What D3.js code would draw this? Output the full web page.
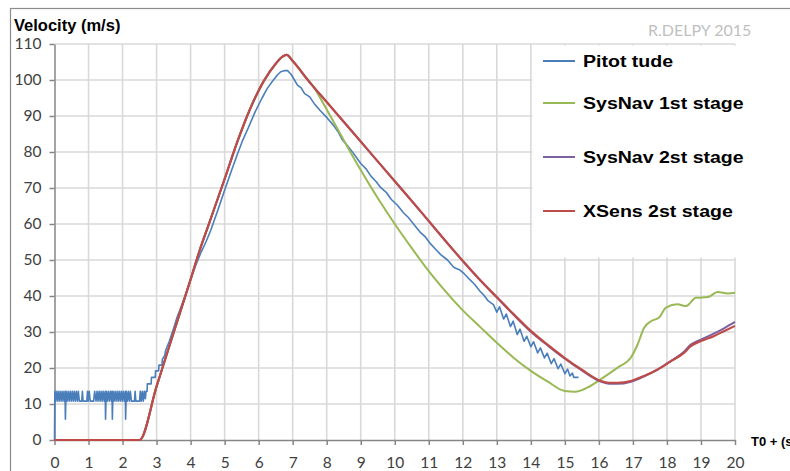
<!DOCTYPE html>
<html>
<head>
<meta charset="utf-8">
<script src="https://cdn.jsdelivr.net/npm/d3@7"></script>
<style>
  body { margin: 0; background: #fff; }
  svg { display: block; }
</style>
</head>
<body>
<div class="canvas"></div>
<script>
// ---- data: [time (s), velocity (m/s)] ----
const xTicks = d3.range(0, 21);
const yTicks = d3.range(0, 111, 10);
const seriesNames = ['Pitot tude', 'SysNav 1st stage', 'SysNav 2st stage', 'XSens 2st stage'];

const pitot = [
  [0,0],[0.01,13.5],[0.04,10.8],[0.07,13.5],[0.1,10.8],[0.13,13.5],[0.16,10.8],[0.19,13.5],[0.22,10.8],
  [0.25,13.5],[0.28,10.8],[0.31,13.5],[0.32,5.8],[0.34,13.5],[0.37,10.8],[0.4,13.5],[0.43,10.8],[0.46,13.5],
  [0.49,10.8],[0.52,13.5],[0.55,10.8],[0.58,13.5],[0.61,10.8],[0.64,13.5],[0.67,10.8],[0.7,13.5],[0.73,10.8],
  [0.8,10.8],[0.82,13.5],[0.84,10.8],[0.95,10.8],[0.97,13.5],[0.99,10.8],[1.02,13.5],[1.05,10.8],[1.15,10.8],
  [1.18,13.5],[1.22,10.8],[1.25,13.5],[1.28,10.8],[1.31,13.5],[1.34,10.8],[1.37,13.5],[1.4,10.8],[1.43,13.5],
  [1.46,10.8],[1.49,13.5],[1.5,5.8],[1.52,13.5],[1.55,10.8],[1.58,13.5],[1.61,10.8],[1.64,13.5],[1.67,10.8],
  [1.69,13.5],[1.7,5.8],[1.72,13.5],[1.75,10.8],[1.78,13.5],[1.81,10.8],[1.84,13.5],[1.87,10.8],[1.9,13.5],
  [1.93,10.8],[1.96,13.5],[1.99,10.8],[2.02,13.5],[2.05,10.8],[2.08,13.5],[2.09,5.8],[2.11,13.5],[2.14,10.8],
  [2.17,13.5],[2.2,10.8],[2.23,13.5],[2.26,10.8],[2.35,10.8],[2.37,13.5],[2.39,10.8],[2.5,10.8],[2.52,13.5],
  [2.55,10.8],[2.58,13.5],[2.61,10.8],[2.64,13.5],[2.67,11.5],[2.69,13.5],
  [2.72,13.5],[2.73,15.6],[2.84,15.6],[2.85,17.4],[2.96,17.4],[2.97,19.2],[3.06,19.2],[3.07,20.8],
  [3.16,20.8],[3.17,22.4],[3.24,23.5],[3.27,25],[3.37,27.3],[3.5,31],[3.6,34],[3.75,37.8],[3.9,41.6],[4.0,44.6],
  [4.15,48.5],[4.3,52],[4.45,55],[4.59,58.2],[4.8,63.8],[5.0,69.4],[5.2,74.8],[5.38,79.5],[5.52,83],[5.7,86.8],
  [5.9,91.2],[6.1,95],[6.25,97.6],[6.4,99.6],[6.55,101.4],[6.65,102.3],[6.75,102.6],[6.85,102.6],[6.95,101.6],
  [7.04,100.2],[7.14,98.6],[7.25,97.8],[7.35,96.2],[7.5,95.3],[7.63,93.5],[7.8,91.6],[8.02,89.4],[8.2,87.4],
  [8.35,85.4],[8.46,83.4],[8.6,81.9],[8.75,80.1],[8.88,78.4],[9.0,76.8],[9.15,75.4],[9.3,73.3],[9.45,71.8],
  [9.59,70.1],[9.75,68.8],[9.9,66.8],[10.08,65.2],[10.25,63.2],[10.4,61.8],[10.57,59.8],[10.76,57.6],[10.9,56.4],
  [11.06,54.4],[11.2,53],[11.35,51.5],[11.55,50],[11.74,47.9],[11.9,47.3],[12.04,46.2],[12.2,44.6],[12.35,43.2],
  [12.5,41.4],[12.62,40.2],[12.73,38.8],[12.9,37.6],[13.0,35.5],[13.08,37],[13.2,33.6],[13.28,35],[13.4,31.5],
  [13.48,33],[13.6,29.3],[13.68,30.8],[13.8,27.4],[13.88,28.8],[14.0,25.9],[14.08,27.3],[14.2,24.2],[14.28,25.6],
  [14.4,22.8],[14.48,24.1],[14.6,21.2],[14.68,22.6],[14.8,19.8],[14.88,21.1],[15.0,18.4],[15.08,19.7],[15.15,17.8],
  [15.22,18.6],[15.26,17.4],[15.4,17.4]
];

const sysNav1 = [
  [0,0],[2.5,0],[3,14.9],[3.5,29.8],[4,44.6],[4.26,52.5],[4.5,59],[5,72.5],[5.38,83],[5.75,92],[6.15,99.7],
  [6.5,104.5],[6.7,106.5],[6.82,107],[7,105.3],[7.3,101.8],[7.6,98.3],[8,91.8],[8.5,83.3],[9,75],[9.5,67.2],
  [10,60],[10.5,53.3],[11,46.9],[11.5,41.2],[12,36],[12.5,31.5],[13,27],[13.5,22.8],[14,19.2],[14.5,16.2],
  [15,13.6],[15.3,13.4],[15.67,14.6],[16.06,16.9],[16.55,20.1],[16.94,22.9],[17.14,26.6],[17.33,31.2],[17.53,33],
  [17.77,34],[17.97,36.8],[18.31,37.7],[18.56,37.2],[18.85,39.5],[19.2,39.7],[19.49,41.1],[19.79,40.7],[20,40.9]
];

const sysNav2 = [
  [0,0],[2.5,0],[3,14.9],[3.5,29.8],[4,44.6],[4.26,52.5],[4.5,59],[5,72.5],[5.38,83],[5.75,92],[6.15,99.7],
  [6.5,104.5],[6.7,106.5],[6.82,107],[7,105.3],[7.47,99.7],[8,93.9],[8.5,88.4],[9,82.9],[9.5,77.4],[10,71.9],
  [10.5,66.4],[10.76,63.5],[11.5,55.2],[12.04,49.3],[12.5,44.5],[13.02,39.4],[13.5,34.7],[14,30.1],[14.5,26.2],
  [14.98,22.7],[15.5,19.3],[16.06,16.2],[16.3,15.6],[16.55,15.6],[16.94,16.2],[17.33,17.7],[17.73,19.6],
  [18.12,22],[18.5,24.5],[18.7,26.5],[19,27.9],[19.39,29.6],[19.69,31.1],[20,32.8]
];

const xsens = [
  [0,0],[2.5,0],[3,14.9],[3.5,29.8],[4,44.6],[4.26,52.5],[4.5,59],[5,72.5],[5.38,83],[5.75,92],[6.15,99.7],
  [6.5,104.5],[6.7,106.5],[6.82,107],[7,105.3],[7.47,99.7],[8,93.9],[8.5,88.4],[9,82.9],[9.5,77.4],[10,71.9],
  [10.5,66.4],[10.76,63.5],[11.5,55.2],[12.04,49.3],[12.5,44.5],[13.02,39.5],[13.5,34.9],[14,30.3],[14.5,26.4],
  [14.98,22.9],[15.5,19.5],[16.06,16.4],[16.3,15.9],[16.55,15.9],[16.94,16.4],[17.33,17.8],[17.73,19.6],
  [18.12,21.9],[18.5,24.2],[18.7,26.1],[19,27.5],[19.39,28.9],[19.69,30.3],[20,31.7]
];

// styles
const colors = ['#4a7ebb', '#98b954', '#7d60a0', '#be4b48'];
const widths = [1.6, 2, 2, 2.2];
const legendY = [61, 103, 157, 211];

// create svg
const svg = d3.select('.canvas')
  .append('svg')
    .attr('width', 790)
    .attr('height', 471);

// outer chart frame
svg.append('rect')
  .attr('x', 10.5).attr('y', 8.5)
  .attr('width', 900).attr('height', 600)
  .attr('fill', '#fff')
  .attr('stroke', '#8c8c8c')
  .attr('stroke-width', 1.2);

// scales
const x = d3.scaleLinear().domain([0, 20]).range([54.5, 735]);
const y = d3.scaleLinear().domain([0, 110]).range([440, 44]);

// gridlines
svg.append('g')
  .selectAll('line')
  .data(xTicks.slice(1))
  .enter().append('line')
    .attr('x1', d => x(d)).attr('x2', d => x(d))
    .attr('y1', y(0)).attr('y2', y(110))
    .attr('stroke', '#d9d9d9').attr('stroke-width', 1.6);

svg.append('g')
  .selectAll('line')
  .data(yTicks.slice(1))
  .enter().append('line')
    .attr('x1', x(0)).attr('x2', x(20))
    .attr('y1', d => y(d)).attr('y2', d => y(d))
    .attr('stroke', '#d9d9d9').attr('stroke-width', 1.6);

// legend background covers the grid top-right
svg.append('rect')
  .attr('x', x(14) + 1.5).attr('y', y(110) + 1.5)
  .attr('width', 300).attr('height', y(50) - y(110) - 4)
  .attr('fill', '#fff');

// axes
const xAxis = d3.axisBottom(x).tickValues(xTicks).tickSize(5).tickSizeOuter(0).tickPadding(12);
const yAxis = d3.axisLeft(y).tickValues(yTicks).tickSize(5).tickSizeOuter(0).tickPadding(8);

const gx = svg.append('g').attr('transform', `translate(0,${y(0)})`).call(xAxis);
const gy = svg.append('g').attr('transform', `translate(${x(0)},0)`).call(yAxis);

[gx, gy].forEach(g => {
  g.selectAll('path, line').attr('stroke', '#868686').attr('stroke-width', 1.5);
  g.selectAll('text')
    .attr('font-family', 'Lato')
    .attr('font-size', '15.5px')
    .attr('fill', '#404040');
});

// series lines
const line = d3.line().x(d => x(d[0])).y(d => y(d[1]));
const series = [pitot, sysNav1, sysNav2, xsens];

series.forEach((data, i) => {
  svg.append('path')
    .datum(data)
    .attr('fill', 'none')
    .attr('stroke', colors[i])
    .attr('stroke-width', widths[i])
    .attr('stroke-linejoin', 'round')
    .attr('d', i === 0 ? line.curve(d3.curveLinear)(data) : line.curve(d3.curveMonotoneX)(data));
});

// legend entries
const legend = svg.append('g')
  .selectAll('g')
  .data(seriesNames)
  .enter().append('g')
    .attr('transform', (d, i) => `translate(543,${legendY[i]})`);

legend.append('line')
  .attr('x1', 0).attr('x2', 32)
  .attr('stroke', (d, i) => colors[i])
  .attr('stroke-width', 2);

legend.append('text')
  .attr('transform', 'translate(40,6) scale(1.15,1)')
  .attr('font-family', 'Liberation Sans, Arial')
  .attr('font-weight', 'bold')
  .attr('font-size', '17px')
  .attr('fill', '#000')
  .text(d => d);

// titles
svg.append('text')
  .attr('x', 14).attr('y', 31)
  .attr('font-family', 'Liberation Sans, Arial')
  .attr('font-weight', 'bold')
  .attr('font-size', '16.5px')
  .text('Velocity (m/s)');

// axis title runs past the right edge, as in the original
svg.append('text')
  .attr('x', 751).attr('y', 446)
  .attr('font-family', 'Liberation Sans, Arial')
  .attr('font-weight', 'bold')
  .attr('font-size', '13px')
  .text('T0 + (s)');

svg.append('text')
  .attr('x', 648).attr('y', 36)
  .attr('font-family', 'Lato')
  .attr('font-size', '16px')
  .attr('fill', '#bfbfbf')
  .text('R.DELPY 2015');
</script>
</body>
</html>
